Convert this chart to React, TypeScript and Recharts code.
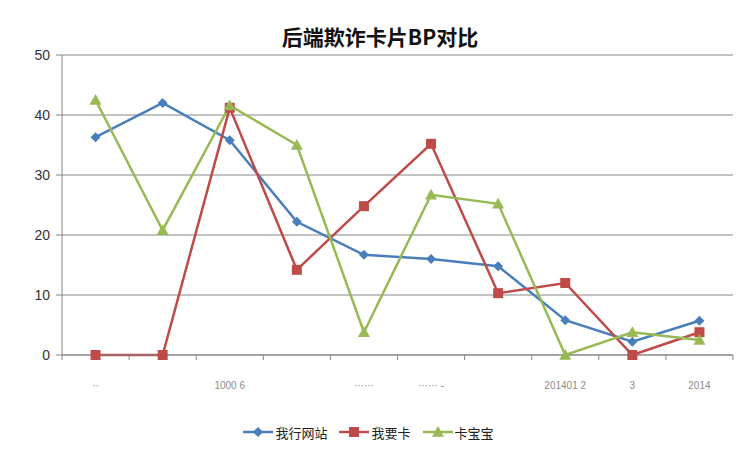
import React from "react";
import { LineChart, Line, XAxis, YAxis, CartesianGrid, Legend } from "recharts";

const categories = ["··", "", "1000  6", "", "······", "······  -", "", "201401  2", "3", "2014"];
const wangzhan = [36.3, 42, 35.8, 22.2, 16.7, 16, 14.8, 5.8, 2.2, 5.7];
const woyaoka = [0, 0, 41.2, 14.2, 24.8, 35.2, 10.3, 12, 0, 3.8];
const kabaobao = [42.5, 20.8, 41.6, 35, 3.8, 26.7, 25.2, 0, 3.8, 2.5];
const yTicks = [0, 10, 20, 30, 40, 50];

const BLUE = "#4A7EBB";
const RED = "#BE4B48";
const GREEN = "#98B954";
const AXIS = "#868686";

const data = categories.map((c, i) => ({
  idx: i,
  label: c,
  wangzhan: wangzhan[i],
  woyaoka: woyaoka[i],
  kabaobao: kabaobao[i],
}));

const boundaries = categories.map((_, i) => i - 0.5).concat([categories.length - 0.5]);

const Diamond = (props: any) => {
  const { cx, cy, fill } = props;
  if (cx == null || cy == null) return null;
  const r = 5;
  return <path d={`M${cx},${cy - r}L${cx + r},${cy}L${cx},${cy + r}L${cx - r},${cy}Z`} fill={fill} />;
};
const Square = (props: any) => {
  const { cx, cy, fill } = props;
  if (cx == null || cy == null) return null;
  const r = 5;
  return <rect x={cx - r} y={cy - r} width={r * 2} height={r * 2} fill={fill} />;
};
const Triangle = (props: any) => {
  const { cx, cy, fill } = props;
  if (cx == null || cy == null) return null;
  const r = 6;
  return <path d={`M${cx},${cy - r}L${cx + r},${cy + r * 0.8}L${cx - r},${cy + r * 0.8}Z`} fill={fill} />;
};

const XTick = (props: any) => {
  const { x, y, payload } = props;
  const i = Math.round(payload.value + 0.5);
  const label = categories[i];
  if (!label) return null;
  return (
    <text x={x + 33.5} y={y + 27} textAnchor="middle" fontSize={10} fill="#8a8a8a" fontFamily="Liberation Sans, sans-serif">
      {label}
    </text>
  );
};

const series = [
  { key: "wangzhan", name: "我行网站", color: BLUE, Shape: Diamond },
  { key: "woyaoka", name: "我要卡", color: RED, Shape: Square },
  { key: "kabaobao", name: "卡宝宝", color: GREEN, Shape: Triangle },
];

const LegendContent = () => (
  <div style={{ display: "flex", justifyContent: "center", alignItems: "center", height: 20, paddingLeft: 16 }}>
    {series.map((s) => (
      <div key={s.key} style={{ display: "flex", alignItems: "center", marginRight: 12 }}>
        <svg width={30} height={14}>
          <line x1={0} y1={7} x2={30} y2={7} stroke={s.color} strokeWidth={2.5} />
          <s.Shape cx={15} cy={7} fill={s.color} />
        </svg>
        <span style={{ fontSize: 13, color: "#222", marginLeft: 2, fontFamily: "Noto Sans CJK SC, sans-serif" }}>{s.name}</span>
      </div>
    ))}
  </div>
);

export default function App() {
  return (
    <div style={{ position: "absolute", left: 0, top: 0, width: 739, height: 453, background: "#fff" }}>
      <LineChart width={739} height={453} data={data} margin={{ top: 55, right: 6, left: 0, bottom: 11 }}>
        <text x={380} y={45} textAnchor="middle" fontSize={21} fontWeight="bold" fill="#111" fontFamily="Noto Sans CJK SC, sans-serif">
          后端欺诈卡片BP对比
        </text>
        <CartesianGrid vertical={false} stroke={AXIS} strokeWidth={1.2} />
        <XAxis
          dataKey="idx"
          type="number"
          domain={[-0.5, categories.length - 0.5]}
          ticks={boundaries}
          interval={0}
          height={67}
          stroke={AXIS}
          tickSize={5}
          tick={<XTick />}
        />
        <YAxis
          domain={[0, 50]}
          ticks={yTicks}
          width={62}
          stroke={AXIS}
          tickSize={6}
          tickMargin={6}
          tick={{ fill: "#333", fontSize: 14, fontFamily: "Liberation Sans, sans-serif" }}
        />
        {series.map((s) => (
          <Line
            key={s.key}
            dataKey={s.key}
            name={s.name}
            stroke={s.color}
            strokeWidth={2.5}
            type="linear"
            isAnimationActive={false}
            dot={(p: any) => <s.Shape key={`${s.key}-${p.index}`} cx={p.cx} cy={p.cy} fill={s.color} />}
            activeDot={false}
          />
        ))}
        <Legend verticalAlign="bottom" height={20} content={<LegendContent />} />
      </LineChart>
    </div>
  );
}
